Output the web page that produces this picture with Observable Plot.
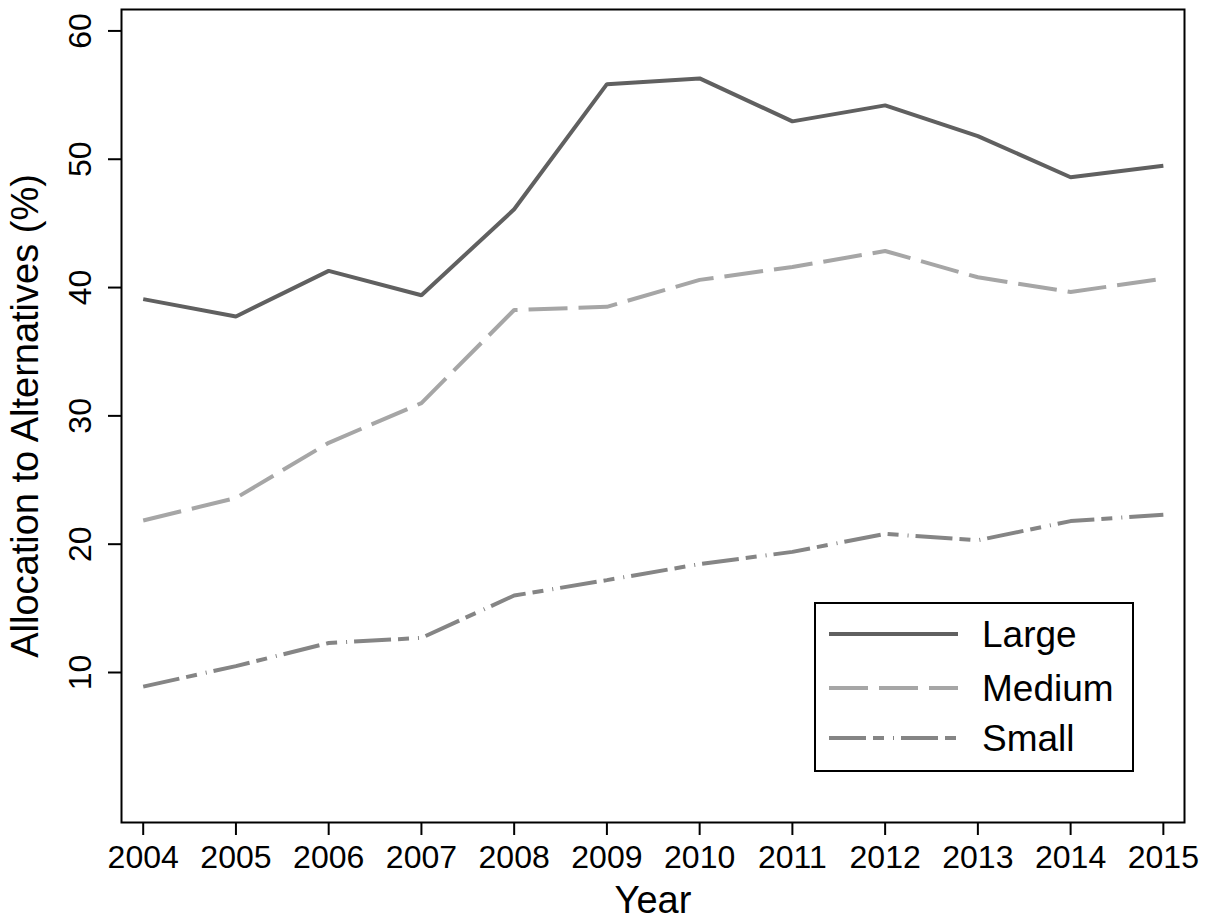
<!DOCTYPE html>
<html><head><meta charset="utf-8">
<script src="https://cdn.jsdelivr.net/npm/d3@7"></script>
<script src="https://cdn.jsdelivr.net/npm/@observablehq/plot@0.6"></script>
<style>
body{margin:0;background:#fff;}
#wrap{position:relative;width:1209px;height:923px;font-family:"Liberation Sans",Arial,sans-serif;}
#legend{position:absolute;left:814px;top:602px;width:316px;height:166px;border:2px solid #000;background:#fff;}
</style></head><body><div id="wrap"></div>
<script>
const years = [2004,2005,2006,2007,2008,2009,2010,2011,2012,2013,2014,2015];
const large = [39.1,37.75,41.3,39.4,46.1,55.85,56.3,52.95,54.2,51.8,48.6,49.5];
const medium = [21.85,23.6,27.9,31.0,38.25,38.5,40.6,41.6,42.85,40.8,39.65,40.7];
const small = [8.9,10.5,12.3,12.7,16.0,17.2,18.45,19.4,20.8,20.3,21.8,22.3];
const seriesNames = ["Large","Medium","Small"];
const seriesColors = ["#606060","#a6a6a6","#858585"];
const seriesDash = [null,"39 11","37 7 11 9 1 7"];
const yTicks = [10,20,30,40,50,60];
const xTicks = years;

const valuesBySeries = [large, medium, small];
const rows = [];
seriesNames.forEach((s,i)=>years.forEach((y,j)=>rows.push({series:s, year:y, value:valuesBySeries[i][j]})));

const font = '"Liberation Sans", Arial, sans-serif';
const lineMarks = seriesNames.map((s,i)=>Plot.line(rows.filter(d=>d.series===s), {
  x:"year", y:"value", stroke: seriesColors[i], strokeWidth:4,
  strokeDasharray: seriesDash[i] ?? undefined, strokeLinecap:"butt", strokeLinejoin:"miter"
}));

const chart = Plot.plot({
  width:1209, height:923,
  marginLeft:121, marginTop:9, marginRight:25, marginBottom:101,
  style:{fontFamily:font, background:"#fff", color:"#000", overflow:"visible"},
  x:{domain:[2003.766,2015.228]},
  y:{domain:[-1.69,61.67]},
  marks:[
    Plot.axisX({ticks:xTicks, tickFormat:d=>String(d), tickSize:13, tickPadding:10, fontSize:32, strokeWidth:2,
      label:"Year", labelAnchor:"center", labelArrow:"none", labelOffset:90}),
    Plot.axisY({ticks:yTicks, tickSize:13, tickPadding:18, tickRotate:-90, fontSize:32, strokeWidth:2,
      label:"Allocation to Alternatives (%)", labelAnchor:"center", labelArrow:"none", labelOffset:110}),
    ...lineMarks,
    Plot.frame({stroke:"#000", strokeWidth:2})
  ]
});
chart.querySelectorAll('g[aria-label="x-axis label"] text, g[aria-label="y-axis label"] text').forEach(t=>t.setAttribute("font-size","38"));
const wrap = document.getElementById("wrap");
wrap.appendChild(chart);

// legend overlay
const leg = d3.select(wrap).append("div").attr("id","legend");
const svg = leg.append("svg").attr("width",316).attr("height",166);
const rowY = [30,84,134];
seriesNames.forEach((s,i)=>{
  svg.append("line").attr("x1",13).attr("x2",142).attr("y1",rowY[i]).attr("y2",rowY[i])
    .attr("stroke",seriesColors[i]).attr("stroke-width",4)
    .attr("stroke-dasharray",seriesDash[i]).attr("stroke-linecap","butt");
  svg.append("text").attr("x",166).attr("y",rowY[i]+13).attr("font-size",37)
    .attr("font-family",font).attr("fill","#000").text(s);
});
</script></body></html>
